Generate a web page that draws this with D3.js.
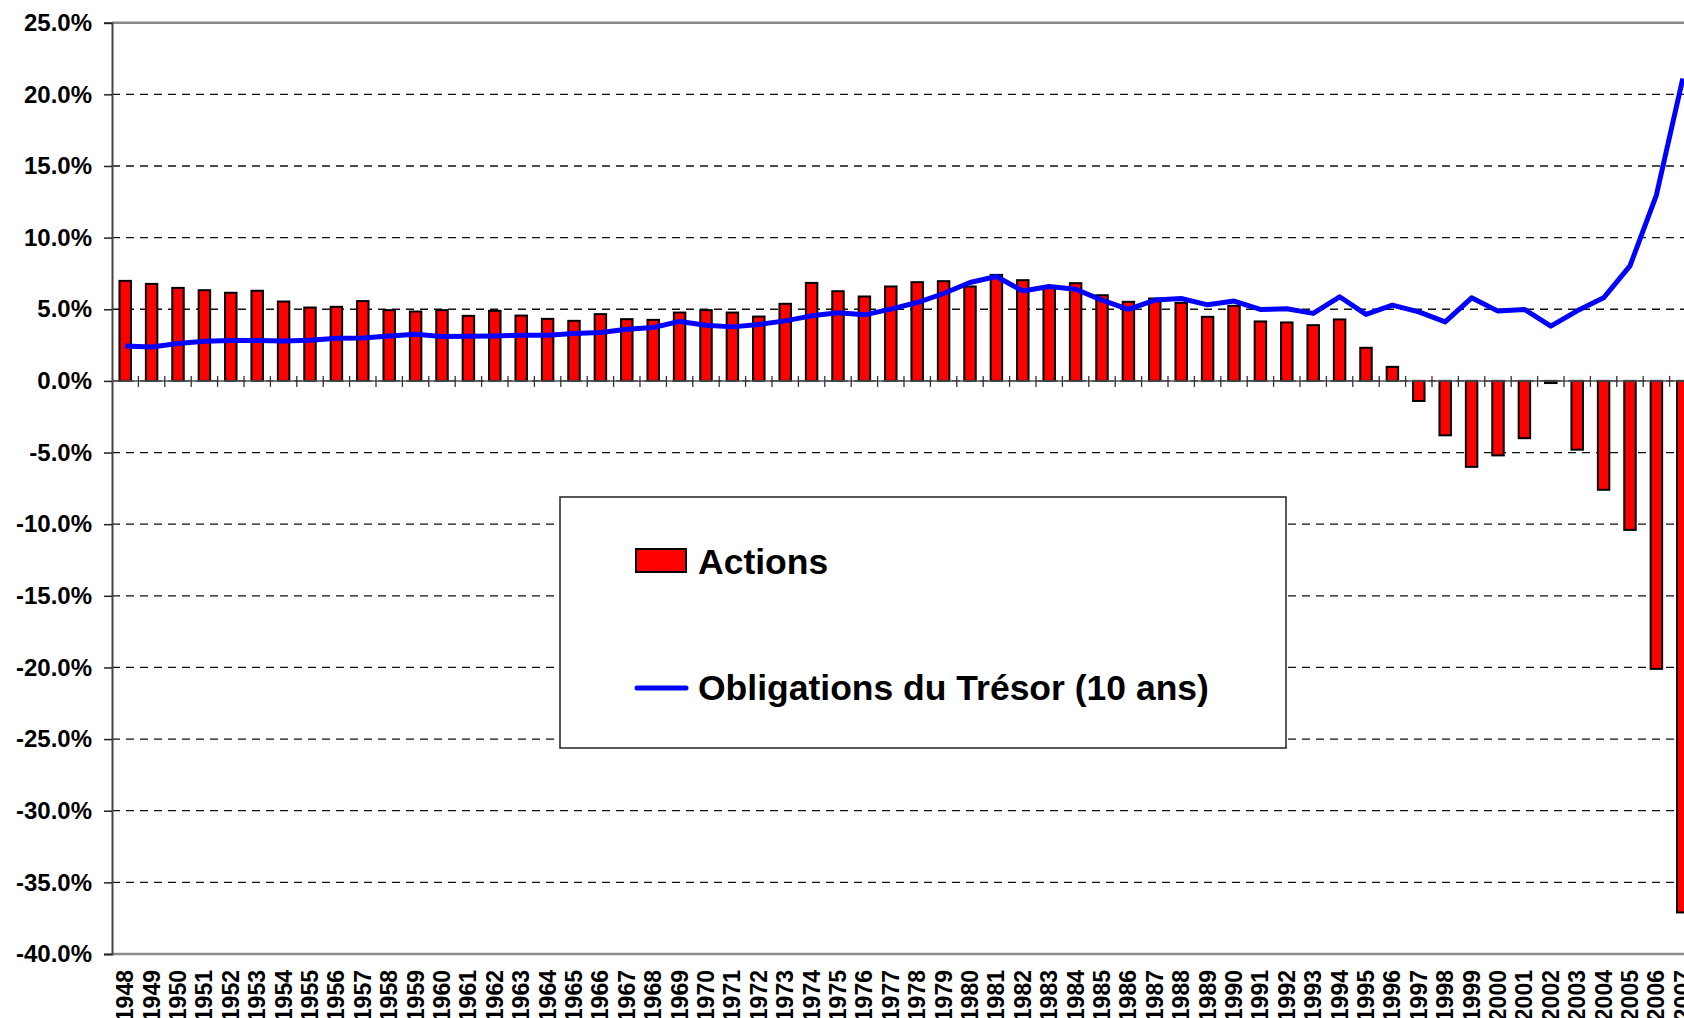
<!DOCTYPE html>
<html>
<head>
<meta charset="utf-8">
<script src="https://cdn.jsdelivr.net/npm/d3@7"></script>
<style>
  body { margin: 0; background: #fff; }
  svg { display: block; font-family: "Liberation Sans", Arial, sans-serif; font-weight: bold; }
</style>
</head>
<body>
<svg id="chart" width="1684" height="1018"></svg>
<script>
const years = ["1948","1949","1950","1951","1952","1953","1954","1955","1956","1957",
  "1958","1959","1960","1961","1962","1963","1964","1965","1966","1967",
  "1968","1969","1970","1971","1972","1973","1974","1975","1976","1977",
  "1978","1979","1980","1981","1982","1983","1984","1985","1986","1987",
  "1988","1989","1990","1991","1992","1993","1994","1995","1996","1997",
  "1998","1999","2000","2001","2002","2003","2004","2005","2006","2007"];

// Actions (bars), %
const actions = [6.98,6.77,6.49,6.33,6.15,6.29,5.54,5.12,5.17,5.57,
  4.94,4.84,4.94,4.54,4.89,4.56,4.33,4.19,4.66,4.31,
  4.26,4.77,4.94,4.77,4.49,5.38,6.84,6.26,5.89,6.59,
  6.89,6.96,6.59,7.40,7.03,6.56,6.82,5.98,5.52,5.75,
  5.45,4.47,5.24,4.15,4.08,3.89,4.29,2.31,0.98,-1.4,
  -3.8,-6.0,-5.2,-4.0,-0.15,-4.8,-7.6,-10.4,-20.1,-37.1];

// Obligations du Trésor (10 ans), %
const obligations = [2.44,2.37,2.61,2.77,2.82,2.82,2.79,2.84,2.98,3.00,
  3.14,3.26,3.10,3.12,3.14,3.19,3.19,3.31,3.38,3.61,
  3.73,4.15,3.89,3.77,3.94,4.19,4.54,4.75,4.61,5.01,
  5.47,6.10,6.87,7.29,6.28,6.59,6.40,5.64,4.99,5.64,
  5.75,5.31,5.57,4.99,5.03,4.71,5.87,4.64,5.29,4.82,
  4.12,5.80,4.87,4.99,3.82,4.89,5.80,8.03,12.97,21.1];

const yTicks = [25,20,15,10,5,0,-5,-10,-15,-20,-25,-30,-35,-40];
const seriesNames = ["Actions", "Obligations du Trésor (10 ans)"];

const svg = d3.select("#chart");

const margin = { top: 22.7, left: 112, bottom: 954 };
const bandStep = 26.4;

const data = years.map((y, i) => ({ year: y, act: actions[i], obl: obligations[i] }));

// scales
const xScale = d3.scaleBand()
  .domain(years)
  .range([margin.left, margin.left + bandStep * years.length])
  .padding(0);

const yScale = d3.scaleLinear()
  .domain([-40, 25])
  .range([margin.bottom, margin.top]);

const xRight = margin.left + bandStep * years.length;
const barW = xScale.bandwidth() / 2.3;

// gridlines
svg.append("g")
  .selectAll("line")
  .data(yTicks.filter(d => d !== 25 && d !== -40))
  .enter()
  .append("line")
  .attr("x1", margin.left)
  .attr("x2", xRight)
  .attr("y1", d => yScale(d))
  .attr("y2", d => yScale(d))
  .attr("stroke", "#111")
  .attr("stroke-width", 1.3)
  .attr("stroke-dasharray", "8,6");

// plot border top / bottom
svg.append("line")
  .attr("x1", margin.left).attr("x2", xRight)
  .attr("y1", yScale(25)).attr("y2", yScale(25))
  .attr("stroke", "#8a8a8a").attr("stroke-width", 2.5);
svg.append("line")
  .attr("x1", margin.left).attr("x2", xRight)
  .attr("y1", yScale(-40)).attr("y2", yScale(-40))
  .attr("stroke", "#8a8a8a").attr("stroke-width", 2.5);

// y axis
const yAxis = d3.axisLeft(yScale)
  .tickValues(yTicks)
  .tickSize(8)
  .tickPadding(12)
  .tickFormat(d => d.toFixed(1) + "%");

const yAxisG = svg.append("g")
  .attr("transform", `translate(${margin.left},0)`)
  .call(yAxis);

yAxisG.select(".domain").attr("stroke", "#444").attr("stroke-width", 2);
yAxisG.selectAll(".tick line").attr("stroke", "#222").attr("stroke-width", 1.5);
yAxisG.selectAll(".tick text")
  .attr("fill", "#000")
  .style("font-size", "24px")
  .style("font-weight", "bold");

// bars
svg.append("g")
  .selectAll("rect")
  .data(data)
  .enter()
  .append("rect")
  .attr("x", d => xScale(d.year) + (xScale.bandwidth() - barW) / 2)
  .attr("y", d => yScale(Math.max(0, d.act)))
  .attr("width", barW)
  .attr("height", d => Math.abs(yScale(d.act) - yScale(0)))
  .attr("fill", "#ff0000")
  .attr("stroke", "#000")
  .attr("stroke-width", 2);

// category axis at 0 with crossing ticks
const zeroY = yScale(0);
svg.append("line")
  .attr("x1", margin.left).attr("x2", xRight)
  .attr("y1", zeroY).attr("y2", zeroY)
  .attr("stroke", "#555").attr("stroke-width", 1.5);

svg.append("g")
  .selectAll("line")
  .data(years.slice(1))
  .enter()
  .append("line")
  .attr("x1", d => xScale(d))
  .attr("x2", d => xScale(d))
  .attr("y1", zeroY - 5)
  .attr("y2", zeroY + 6)
  .attr("stroke", "#333")
  .attr("stroke-width", 1.3);

// bottom labels (run off the bottom edge, as in the original)
const xAxis = d3.axisBottom(xScale).tickSize(0).tickPadding(0);
const xAxisG = svg.append("g")
  .attr("transform", `translate(0,${margin.bottom})`)
  .call(xAxis);
xAxisG.select(".domain").remove();
xAxisG.selectAll(".tick text")
  .attr("fill", "#000")
  .style("font-size", "23px")
  .style("font-weight", "bold")
  .attr("text-anchor", "end")
  .attr("transform", "translate(0,16) rotate(-90)")
  .attr("x", 0)
  .attr("y", 0)
  .attr("dy", "0.35em");

// line
const lineGenerator = d3.line()
  .x(d => xScale(d.year) + xScale.bandwidth() / 2)
  .y(d => yScale(d.obl));

svg.append("path")
  .attr("d", lineGenerator(data))
  .attr("fill", "none")
  .attr("stroke", "#0000ff")
  .attr("stroke-width", 5)
  .attr("stroke-linejoin", "round");

// legend
const legend = svg.append("g").attr("transform", "translate(560,497)");
legend.append("rect")
  .attr("width", 726).attr("height", 251)
  .attr("fill", "#fff")
  .attr("stroke", "#222").attr("stroke-width", 1.5);

legend.append("rect")
  .attr("x", 76).attr("y", 52)
  .attr("width", 50).attr("height", 23)
  .attr("fill", "#ff0000")
  .attr("stroke", "#000").attr("stroke-width", 2);
legend.append("text")
  .attr("x", 138).attr("y", 77)
  .style("font-size", "35.5px")
  .text(seriesNames[0]);

legend.append("line")
  .attr("x1", 77).attr("x2", 126)
  .attr("y1", 191).attr("y2", 191)
  .attr("stroke", "#0000ff").attr("stroke-width", 5)
  .attr("stroke-linecap", "round");
legend.append("text")
  .attr("x", 138).attr("y", 203)
  .style("font-size", "35.5px")
  .text(seriesNames[1]);
</script>
</body>
</html>
